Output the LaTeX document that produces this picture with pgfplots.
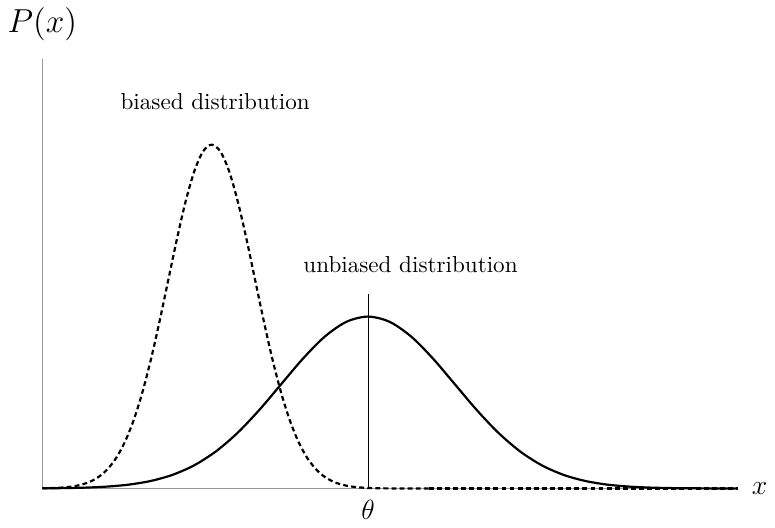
\documentclass[border=0pt]{standalone}
\usepackage{pgfplots}
\pgfplotsset{compat=1.18}
\begin{document}
\begin{tikzpicture}
\begin{axis}[
  scale only axis=true,
  width=301pt, height=186pt,
  xmin=-3.75, xmax=4.26, ymin=0, ymax=2.5,
  axis x line=bottom, axis y line=left,
  axis line style={-, gray!80, line width=0.4pt},
  xtick=\empty, ytick=\empty,
  clip=false,
]
% unbiased distribution
\addplot[black, line width=0.95pt, smooth] coordinates {
(-3.75,0.00088) (-3.5,0.00219) (-3.25,0.00509) (-3.0,0.01111) (-2.75,0.02279)
(-2.5,0.04394) (-2.25,0.07956) (-2.0,0.13534) (-1.75,0.21627) (-1.5,0.32465)
(-1.25,0.45783) (-1.0,0.60653) (-0.75,0.75484) (-0.5,0.88250) (-0.25,0.96923)
(0,1) (0.25,0.96923) (0.5,0.88250) (0.75,0.75484) (1.0,0.60653) (1.25,0.45783)
(1.5,0.32465) (1.75,0.21627) (2.0,0.13534) (2.25,0.07956) (2.5,0.04394)
(2.75,0.02279) (3.0,0.01111) (3.25,0.00509) (3.5,0.00219) (3.75,0.00088)
(4.0,0.00034) (4.26,0.00012)
};
% biased distribution
\addplot[black, line width=0.95pt, smooth, dash pattern=on 2.1pt off 1.4pt] coordinates {
(-3.75,0.0010) (-3.7,0.0015) (-3.6,0.0031) (-3.5,0.0062) (-3.4,0.0119)
(-3.3,0.0222) (-3.2,0.0397) (-3.1,0.0681) (-3.0,0.1123) (-2.9,0.1778)
(-2.8,0.2707) (-2.7,0.3958) (-2.6,0.5561) (-2.5,0.7507) (-2.4,0.9735)
(-2.3,1.2131) (-2.2,1.4523) (-2.1,1.6705) (-2.0,1.8462) (-1.9,1.9604)
(-1.8,2.0) (-1.7,1.9604) (-1.6,1.8462) (-1.5,1.6705) (-1.4,1.4523)
(-1.3,1.2131) (-1.2,0.9735) (-1.1,0.7507) (-1.0,0.5561) (-0.9,0.3958)
(-0.8,0.2707) (-0.7,0.1778) (-0.6,0.1123) (-0.5,0.0681) (-0.4,0.0397)
(-0.3,0.0222) (-0.2,0.0119) (-0.1,0.0062) (0.0,0.0031) (0.1,0.0015)
(0.2,0.00067) (0.4,0.000125) (0.7,0)
};
\addplot[black, line width=0.95pt, dash pattern=on 2.1pt off 1.4pt] coordinates {(0.7,0) (4.26,0)};
% theta line
\addplot[black, line width=0.35pt] coordinates {(0,0) (0,1.13)};
\node at (axis cs:-1.76,2.253) {biased distribution};
\node at (axis cs:0.49,1.30) {unbiased distribution};
\node at (axis cs:0,-0.126) {\large$\theta$};
\node at (axis cs:4.51,0.0) {\large$x$};
\node at (axis cs:-3.75,2.70) {\fontsize{13.6}{16}\selectfont$P(x)$};
\end{axis}
\end{tikzpicture}
\end{document}
